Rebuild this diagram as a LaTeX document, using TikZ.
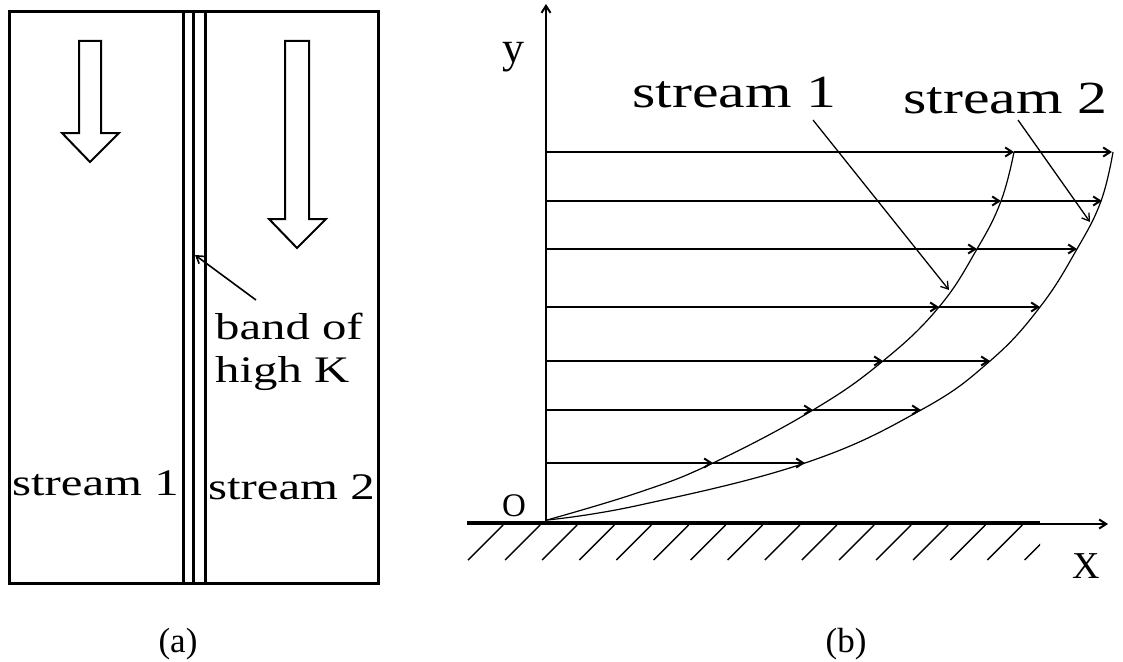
\documentclass[tikz,border=0pt]{standalone}
\usepackage{fontspec}
\setmainfont{Liberation Serif}
\newfontfamily\widefont[FakeStretch=1.3]{Liberation Serif}
\usetikzlibrary{arrows.meta}
\begin{document}
\begin{tikzpicture}[x=1pt,y=-1pt,
  thinarrow/.style={-{Straight Barb[length=7pt,width=9pt]}},
  frame/.style={line width=3pt},
  blockarrow/.style={line width=2pt,line join=miter},
  lbl/.style={inner sep=0pt,anchor=base west,font=\widefont\fontsize{37.5}{43}\selectfont},
  rlbl/.style={inner sep=0pt,anchor=base west,font=\widefont\fontsize{46}{52}\selectfont},
  captxt/.style={inner sep=0pt,font=\fontsize{35}{40}\selectfont},
  vel/.style={line width=2pt,thinarrow},
  prof/.style={line width=1.2pt},
  leader/.style={line width=1.3pt,thinarrow}]
\useasboundingbox (0,0) rectangle (1123,661);

% ---------- panel (a) ----------
\draw[frame] (9,12) rectangle (378,583);
\foreach \xx in {183,193,205} \draw[frame] (\xx,12) -- (\xx,583);
\draw[blockarrow] (79,41) -- (101,41) -- (101,133) -- (119,133) -- (90,162) -- (62,133) -- (79,133) -- cycle;
\draw[blockarrow] (285,41) -- (309,41) -- (309,219) -- (326,219) -- (297,248) -- (269,219) -- (285,219) -- cycle;
\node[lbl] (s1a) at (12,495) {stream 1};
\node[lbl] (s2a) at (208,499) {stream 2};
\node[lbl] (band1) at (215,339) {band of};
\node[lbl] (band2) at (215,382) {high K};
\coordinate (bandfrom) at (256,300);
\coordinate (bandto) at (195,255);
\draw[leader,line width=1.6pt] (bandfrom) -- (bandto);
\node[captxt] (capa) at (178,644) {(a)};

% ---------- panel (b) ----------
\coordinate (orig) at (546,523);
\draw[line width=2pt,thinarrow] (orig) -- (546,4);
\draw[line width=3.5pt] (467,523) -- (1040,523);
\draw[line width=2pt,thinarrow] (1038,524) -- (1108,524);
\begin{scope}
  \clip (440,524) rectangle (1040,570);
  \foreach \i in {0,...,15}
    \draw[line width=1.4pt] ({468+37.1*\i},560) -- ({503+37.1*\i},525);
\end{scope}

% velocity arrows: y, x at stream 1, x at stream 2
\foreach \yy/\xa/\xb in {152/1014/1112,201/1001/1102,249/977/1077,307/939/1040,361/883/990,410/813/921,463/713/805}{
  \draw[vel] (546,\yy) -- (\xa,\yy);
  \draw[vel] (\xa,\yy) -- (\xb,\yy);
}
% profiles
\draw[prof] plot[smooth,tension=0.7] coordinates {(547,520) (640,492) (713,463) (813,410) (883,361) (939,307) (977,249) (1001,201) (1014,152)};
\draw[prof] plot[smooth,tension=0.7] coordinates {(547,520) (640,505) (805,463) (921,410) (990,361) (1040,307) (1077,249) (1101,201) (1113,152)};

\node[rlbl] (s1b) at (632,107) {stream 1};
\node[rlbl] (s2b) at (903,113) {stream 2};
\coordinate (l1a) at (813,120);
\coordinate (l1b) at (949,290);
\coordinate (l2a) at (1018,120);
\coordinate (l2b) at (1090,222);
\draw[leader] (l1a) -- (l1b);
\draw[leader] (l2a) -- (l2b);

\node[inner sep=0pt,anchor=base west,font=\fontsize{44}{50}\selectfont] (ylab) at (502,63) {y};
\node[inner sep=0pt,font=\fontsize{33}{38}\selectfont] (olab) at (514,506) {O};
\node[inner sep=0pt,font=\fontsize{38}{44}\selectfont] (xlab) at (1086,566) {X};
\node[captxt] (capb) at (846,644) {(b)};
\end{tikzpicture}
\end{document}
